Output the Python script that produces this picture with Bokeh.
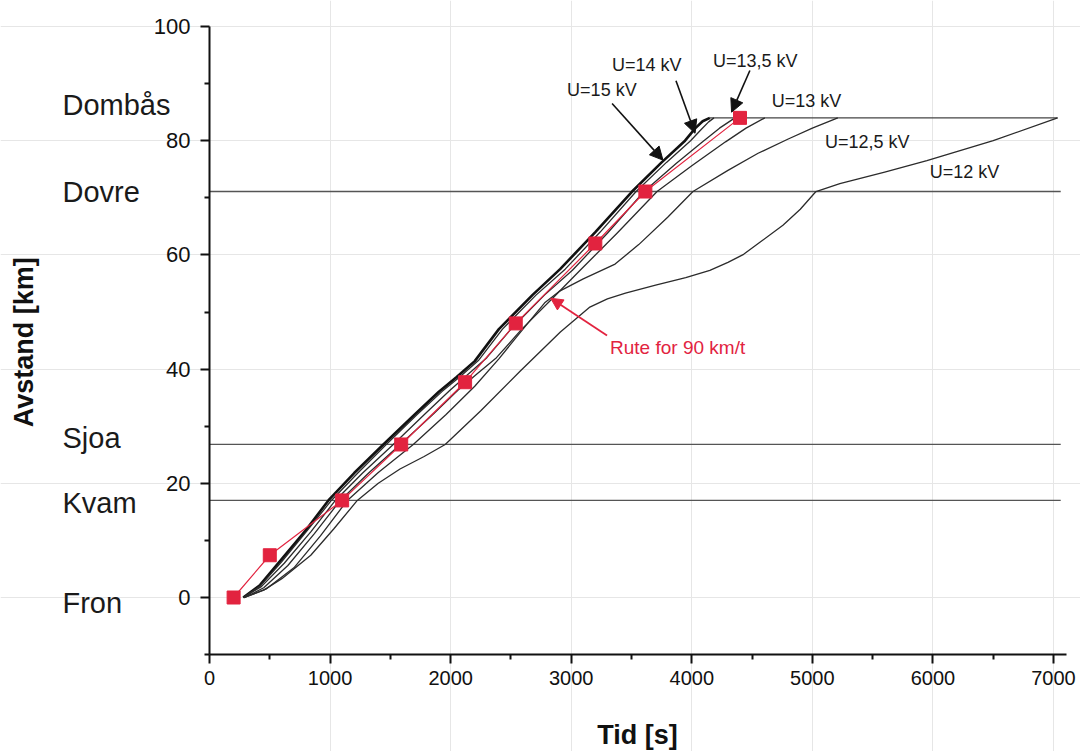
import math
from bokeh.plotting import figure
from bokeh.models import Range1d, FixedTicker, Label, Arrow, NormalHead
from bokeh.embed import file_html
from bokeh.resources import INLINE

# ---------------- data ----------------
stations = ["Fron", "Kvam", "Sjoa", "Dovre", "Dombås"]
station_km = [0.0, 17.0, 26.8, 71.1, 84.0]

x_ticks = [0, 1000, 2000, 3000, 4000, 5000, 6000, 7000]
x_minor = [500, 1500, 2500, 3500, 4500, 5500, 6500]
y_ticks = [0, 20, 40, 60, 80, 100]
y_minor = [-10, 10, 30, 50, 70, 90]

# Rute for 90 km/t
route_t = [200, 500, 1100, 1590, 2120, 2540, 3200, 3615, 4400]
route_km = [0.0, 7.4, 17.0, 26.8, 37.7, 48.0, 62.0, 71.1, 84.0]

u15_t = [280, 420, 590, 800, 986, 1200, 1442, 1700, 1900, 2050, 2200, 2400, 2680, 2908, 3200, 3505, 3750, 3944, 4030, 4090, 4150]
u15_km = [0.0, 2.2, 6.5, 11.8, 17.0, 21.8, 26.8, 32.0, 36.0, 38.6, 41.4, 47.0, 53.0, 57.5, 64.0, 71.1, 76.2, 80.0, 82.2, 83.4, 84.0]

u14_t = [280, 420, 600, 810, 1011, 1230, 1466, 1720, 1930, 2080, 2230, 2430, 2710, 2950, 3240, 3538, 3790, 3990, 4080, 4140, 4184]
u14_km = [0.0, 2.0, 6.3, 11.7, 17.0, 21.8, 26.8, 32.0, 36.1, 38.7, 41.5, 47.0, 53.0, 57.5, 64.0, 71.1, 76.2, 80.0, 82.0, 83.3, 84.0]

u135_t = [280, 430, 620, 840, 1044, 1270, 1524, 1780, 1990, 2140, 2300, 2500, 2780, 3010, 3300, 3604, 3870, 4090, 4230, 4358]
u135_km = [0.0, 1.9, 6.0, 11.5, 17.0, 21.8, 26.8, 32.0, 36.2, 39.0, 42.0, 47.0, 53.0, 57.3, 63.8, 71.1, 76.0, 79.8, 82.2, 84.0]

u13_t = [290, 450, 650, 870, 1085, 1320, 1582, 1850, 2060, 2220, 2380, 2590, 2850, 3074, 3380, 3712, 4000, 4280, 4450, 4606]
u13_km = [0.0, 1.7, 5.6, 11.2, 17.0, 21.8, 26.8, 32.0, 36.3, 39.2, 42.0, 47.0, 52.5, 57.3, 63.8, 71.1, 75.6, 79.8, 82.2, 84.0]

u125_t = [290, 470, 700, 920, 1143, 1400, 1690, 1960, 2200, 2400, 2600, 2780, 2900, 3100, 3364, 3560, 3800, 4010, 4300, 4550, 4800, 5000, 5211]
u125_km = [0.0, 1.5, 5.2, 10.8, 17.0, 21.9, 26.8, 32.0, 37.0, 41.8, 47.0, 51.6, 53.6, 55.8, 58.4, 61.8, 66.6, 71.1, 74.8, 77.8, 80.3, 82.2, 84.0]

u12_t = [290, 450, 600, 840, 1030, 1226, 1400, 1580, 1780, 1955, 2250, 2580, 2910, 3150, 3300, 3450, 3700, 3950, 4150, 4300, 4430, 4565, 4756, 4900, 5030, 5228, 5600, 5950, 6500, 7034]
u12_km = [0.0, 1.3, 3.3, 7.4, 12.0, 17.0, 20.0, 22.5, 24.7, 26.8, 32.7, 39.7, 46.5, 50.8, 52.3, 53.3, 54.7, 56.0, 57.3, 58.7, 60.1, 62.2, 65.2, 68.0, 71.1, 72.5, 74.5, 76.5, 80.0, 84.0]

curve_labels = ["U=15 kV", "U=14 kV", "U=13,5 kV", "U=13 kV", "U=12,5 kV", "U=12 kV"]
curves_t = [u15_t, u14_t, u135_t, u13_t, u125_t, u12_t]
curves_km = [u15_km, u14_km, u135_km, u13_km, u125_km, u12_km]

# ---------------- styling ----------------
RED = "#E2233F"
DARK = "#2b2b2b"
FONT = "Liberation Sans"

W, H = 1080, 751
PX_PER_S = 0.12057       # horizontal scale (px per second)
PX_PER_KM = 5.71         # vertical scale (px per km)
X0_PX, Y0_PX = 209, 597  # pixel position of (0 s, 0 km)

x_lo = -X0_PX / PX_PER_S
x_hi = (W - X0_PX) / PX_PER_S
y_hi = Y0_PX / PX_PER_KM
y_lo = -(H - Y0_PX) / PX_PER_KM

p = figure(width=W, height=H,
           x_range=Range1d(x_lo, x_hi), y_range=Range1d(y_lo, y_hi),
           output_backend="svg", toolbar_location=None,
           min_border_left=0, min_border_right=0,
           min_border_top=0, min_border_bottom=0)
p.outline_line_color = None
p.background_fill_color = "white"
p.border_fill_color = "white"

p.xaxis.fixed_location = -10
p.yaxis.fixed_location = 0
p.xaxis.bounds = (0, 7110)
p.yaxis.bounds = (-10, 100)

for ax in (p.xaxis[0], p.yaxis[0]):
    ax.axis_line_width = 2
    ax.axis_line_color = "#111111"
    ax.major_tick_line_width = 2
    ax.major_tick_line_color = "#111111"
    ax.minor_tick_line_width = 2
    ax.minor_tick_line_color = "#111111"
    ax.major_tick_out = 9
    ax.major_tick_in = 0
    ax.minor_tick_out = 5
    ax.minor_tick_in = 0
    ax.major_label_text_font = FONT
    ax.major_label_text_color = "#111111"

p.xaxis.ticker = FixedTicker(ticks=x_ticks, minor_ticks=x_minor)
p.yaxis.ticker = FixedTicker(ticks=y_ticks, minor_ticks=y_minor)
p.xaxis.major_label_text_font_size = "20px"
p.yaxis.major_label_text_font_size = "22px"
p.xaxis.major_label_standoff = 7
p.yaxis.major_label_standoff = 10

p.xgrid.ticker = FixedTicker(ticks=x_ticks[1:])
p.ygrid.ticker = FixedTicker(ticks=y_ticks)
p.xgrid.bounds = (-10, 100)
p.ygrid.bounds = (0, 7110)
p.xgrid.grid_line_color = "#e6e6e6"
p.ygrid.grid_line_color = "#e6e6e6"

# station lines (Fron is on the 0 line, Dombås is the end plateau)
for name, km in zip(stations, station_km):
    if name in ("Kvam", "Sjoa", "Dovre"):
        p.line([0, 7060], [km, km], line_color="#555555", line_width=1.3)

# end plateau at Dombås
end_ts = [t[-1] for t in curves_t]
p.line([min(end_ts), max(end_ts)], [station_km[-1], station_km[-1]],
       line_color="#444444", line_width=1.3)

# simulated runs
for i, (t, km) in enumerate(zip(curves_t, curves_km)):
    p.line(t, km, line_color="#111111" if i == 0 else DARK,
           line_width=2.6 if i == 0 else 1.3, line_join="round")

# route 90 km/t
p.line(route_t, route_km, line_color=RED, line_width=1.2)
p.scatter(route_t, route_km, marker="square", size=13,
          fill_color=RED, line_color=RED)

# station labels in left margin
label_y = [-1.0, 16.5, 28.0, 71.1, 86.2]
for name, ly in zip(stations, label_y):
    p.add_layout(Label(x=(62 - X0_PX) / PX_PER_S, y=ly, text=name, text_font=FONT,
                       text_font_size="29px", text_color="#1a1a1a",
                       text_align="left", text_baseline="middle"))

# axis titles
p.add_layout(Label(x=(23 - X0_PX) / PX_PER_S, y=44.7, text="Avstand [km]", text_font=FONT,
                   text_font_style="bold", text_font_size="27px",
                   angle=math.pi / 2, text_align="center",
                   text_baseline="middle", text_color="#111111"))
p.add_layout(Label(x=3550, y=-24.0, text="Tid [s]", text_font=FONT,
                   text_font_style="bold", text_font_size="27px",
                   text_align="center", text_baseline="middle",
                   text_color="#111111"))

# curve annotations
label_pos = [(2966, 88.8), (3339, 93.2), (4176, 94.0), (4664, 87.0), (5104, 79.8), (5974, 74.6)]
for txt, (lx, ly) in zip(curve_labels, label_pos):
    p.add_layout(Label(x=lx, y=ly, text=txt, text_font=FONT,
                       text_font_size="18px", text_color="#1a1a1a",
                       text_align="left", text_baseline="middle"))

arrows = [((3339, 86.5), (3761, 76.6)),
          ((3869, 90.5), (4027, 81.3)),
          ((4482, 92.3), (4330, 85.0))]
for (x0, y0), (x1, y1) in arrows:
    p.add_layout(Arrow(x_start=x0, y_start=y0, x_end=x1, y_end=y1,
                       line_color="#111111", line_width=1.6,
                       end=NormalHead(size=13, fill_color="#111111",
                                      line_color="#111111")))

p.add_layout(Label(x=3322, y=43.8, text="Rute for 90 km/t", text_font=FONT,
                   text_font_size="19px", text_color=RED,
                   text_align="left", text_baseline="middle"))
p.add_layout(Arrow(x_start=3297, y_start=45.9, x_end=2830, y_end=52.4,
                   line_color=RED, line_width=1.8,
                   end=NormalHead(size=12, fill_color=RED, line_color=RED)))

open("out.html", "w").write(file_html(p, INLINE))
